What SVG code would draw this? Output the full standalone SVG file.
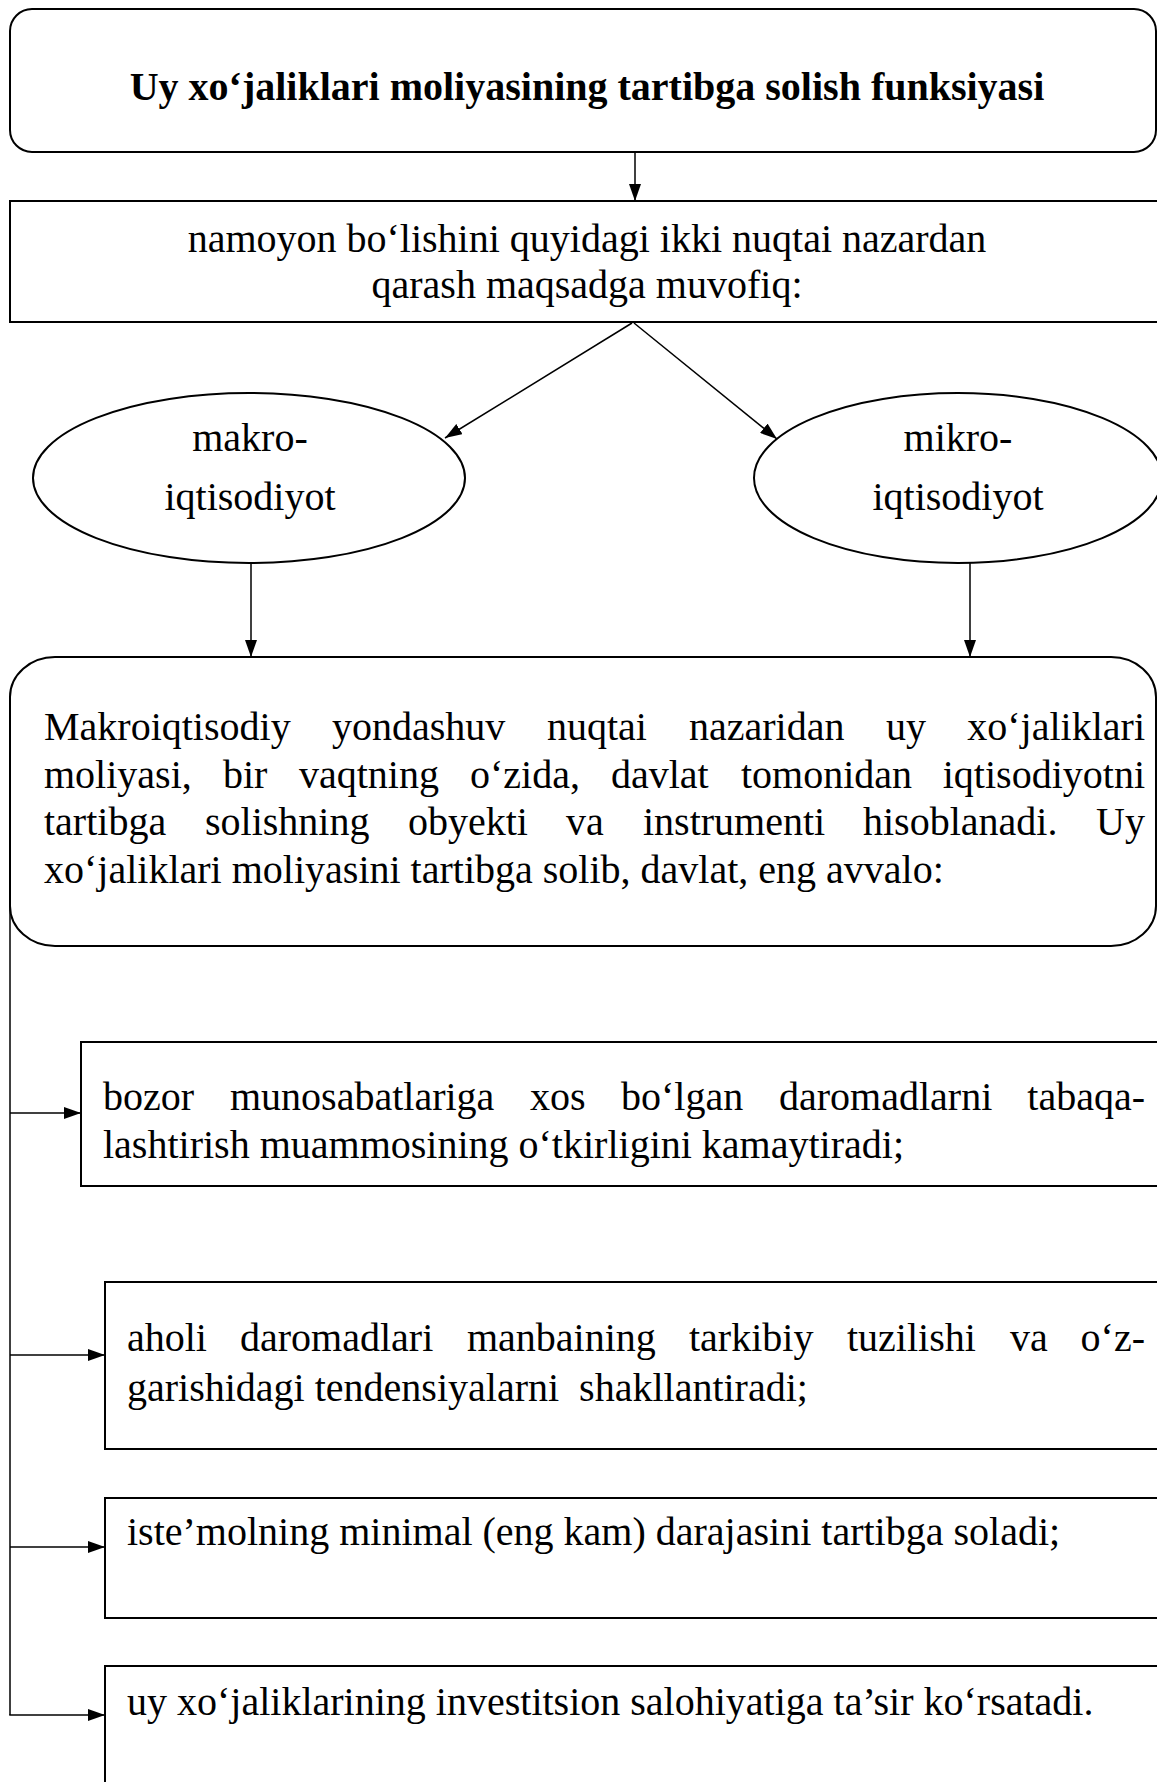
<svg xmlns="http://www.w3.org/2000/svg" width="1157" height="1782" viewBox="0 0 1157 1782">
<style>
.box{fill:#fff;stroke:#000;stroke-width:2}
.t{font-family:"Liberation Serif","Times New Roman",serif;fill:#000}
.f40{font-size:40px}
.b{font-weight:bold}
.c{text-anchor:middle}
.e{text-anchor:end}
.con{fill:none;stroke:#000;stroke-width:1.5}
.pre{white-space:pre}
</style>
<defs>
<marker id="ah" markerWidth="17" markerHeight="12" refX="17" refY="6" orient="auto" markerUnits="userSpaceOnUse">
<path d="M0,0 L17,6 L0,12 Z" fill="#000"/>
</marker>
</defs>
<rect width="1157" height="1782" fill="#fff"/>

<g id="connectors">
<line class="con" x1="635" y1="152" x2="635" y2="201" marker-end="url(#ah)"/>
<line class="con" x1="632" y1="323" x2="445" y2="438" marker-end="url(#ah)"/>
<line class="con" x1="634" y1="323" x2="777" y2="439" marker-end="url(#ah)"/>
<line class="con" x1="251" y1="563" x2="251" y2="657" marker-end="url(#ah)"/>
<line class="con" x1="970" y1="563" x2="970" y2="657" marker-end="url(#ah)"/>
<line class="con" x1="10" y1="900" x2="10" y2="1715"/>
<line class="con" x1="10" y1="1113" x2="81" y2="1113" marker-end="url(#ah)"/>
<line class="con" x1="10" y1="1355" x2="105" y2="1355" marker-end="url(#ah)"/>
<line class="con" x1="10" y1="1547" x2="105" y2="1547" marker-end="url(#ah)"/>
<line class="con" x1="9.25" y1="1715" x2="105" y2="1715" marker-end="url(#ah)"/>
</g>

<g id="title">
<rect class="box" x="10" y="9" width="1146" height="143" rx="22" ry="22"/>
<text class="t f40 b c" x="587" y="100">Uy xo‘jaliklari moliyasining tartibga solish funksiyasi</text>
</g>

<g id="intro">
<rect class="box" x="10" y="201" width="1170" height="121"/>
<text class="t f40 c" x="587" y="252">namoyon bo‘lishini quyidagi ikki nuqtai nazardan</text>
<text class="t f40 c" x="587" y="298">qarash maqsadga muvofiq:</text>
</g>

<g id="makro">
<ellipse class="box" cx="249" cy="478" rx="216" ry="85"/>
<text class="t f40 c" x="250" y="451">makro-</text>
<text class="t f40 c" x="250" y="510">iqtisodiyot</text>
</g>

<g id="mikro">
<ellipse class="box" cx="958" cy="478" rx="204" ry="85"/>
<text class="t f40 c" x="958" y="451">mikro-</text>
<text class="t f40 c" x="958" y="510">iqtisodiyot</text>
</g>

<g id="makro-text">
<rect class="box" x="10" y="657" width="1146" height="289" rx="45" ry="40"/>
<text class="t f40" y="740"><tspan x="44">Makroiqtisodiy</tspan><tspan x="332">yondashuv</tspan><tspan x="547">nuqtai</tspan><tspan x="689">nazaridan</tspan><tspan x="886">uy</tspan><tspan x="1145" class="e">xo‘jaliklari</tspan></text>
<text class="t f40" y="788"><tspan x="44">moliyasi,</tspan><tspan x="223">bir</tspan><tspan x="299">vaqtning</tspan><tspan x="470">o‘zida,</tspan><tspan x="611">davlat</tspan><tspan x="741">tomonidan</tspan><tspan x="1145" class="e">iqtisodiyotni</tspan></text>
<text class="t f40" y="835"><tspan x="44">tartibga</tspan><tspan x="205">solishning</tspan><tspan x="408">obyekti</tspan><tspan x="566">va</tspan><tspan x="643">instrumenti</tspan><tspan x="863">hisoblanadi.</tspan><tspan x="1145" class="e">Uy</tspan></text>
<text class="t f40" x="44" y="883">xo‘jaliklari moliyasini tartibga solib, davlat, eng avvalo:</text>
</g>

<g id="item1">
<rect class="box" x="81" y="1042" width="1090" height="144"/>
<text class="t f40" y="1110"><tspan x="103">bozor</tspan><tspan x="230">munosabatlariga</tspan><tspan x="530">xos</tspan><tspan x="621">bo‘lgan</tspan><tspan x="779">daromadlarni</tspan><tspan x="1145" class="e">tabaqa-</tspan></text>
<text class="t f40" x="103" y="1158">lashtirish muammosining o‘tkirligini kamaytiradi;</text>
</g>

<g id="item2">
<rect class="box" x="105" y="1282" width="1070" height="167"/>
<text class="t f40" y="1351"><tspan x="127">aholi</tspan><tspan x="240">daromadlari</tspan><tspan x="467">manbaining</tspan><tspan x="689">tarkibiy</tspan><tspan x="847">tuzilishi</tspan><tspan x="1010">va</tspan><tspan x="1145" class="e">o‘z-</tspan></text>
<text class="t f40 pre" x="127" y="1401">garishidagi tendensiyalarni  shakllantiradi;</text>
</g>

<g id="item3">
<rect class="box" x="105" y="1498" width="1070" height="120"/>
<text class="t f40" x="127" y="1545">iste’molning minimal (eng kam) darajasini tartibga soladi;</text>
</g>

<g id="item4">
<rect class="box" x="105" y="1666" width="1070" height="140"/>
<text class="t f40" x="127" y="1715">uy xo‘jaliklarining investitsion salohiyatiga ta’sir ko‘rsatadi.</text>
</g>
</svg>
